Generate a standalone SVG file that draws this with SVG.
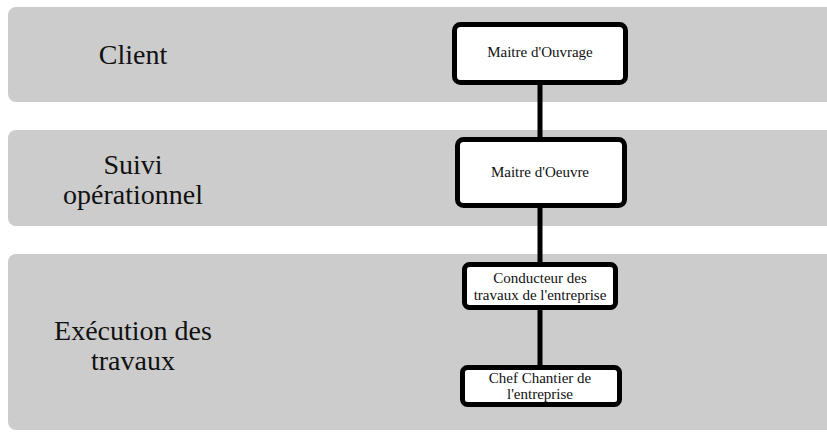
<svg xmlns="http://www.w3.org/2000/svg" width="827" height="432" viewBox="0 0 827 432">
  <style>
    .lane { fill: #cccccc; }
    .title { font-family: "Liberation Serif", "DejaVu Serif", serif; font-size: 28px; fill: #111; text-anchor: middle; }
    .box { fill: #ffffff; stroke: #000000; stroke-width: 5; }
    .label { font-family: "Liberation Serif", "DejaVu Serif", serif; font-size: 15px; fill: #111; text-anchor: middle; }
    .conn { stroke: #000000; stroke-width: 5; fill: none; }
  </style>
  <rect width="827" height="432" fill="#ffffff"/>
  <g id="lanes">
    <g id="lane-client">
      <rect class="lane" x="8" y="7" width="840" height="95" rx="8"/>
      <text class="title" x="133" y="64">Client</text>
    </g>
    <g id="lane-suivi">
      <rect class="lane" x="8" y="130" width="840" height="96" rx="8"/>
      <text class="title" x="133" y="174">Suivi</text>
      <text class="title" x="133" y="204">opérationnel</text>
    </g>
    <g id="lane-execution">
      <rect class="lane" x="8" y="254" width="840" height="176" rx="8"/>
      <text class="title" x="133" y="340">Exécution des</text>
      <text class="title" x="133" y="370">travaux</text>
    </g>
  </g>
  <g id="connectors">
    <line class="conn" x1="540" y1="85" x2="540" y2="137"/>
    <line class="conn" x1="540" y1="208" x2="540" y2="262"/>
    <line class="conn" x1="540" y1="310" x2="540" y2="365"/>
  </g>
  <g id="node-moa">
    <rect class="box" x="454.5" y="24.5" width="171" height="58" rx="6"/>
    <text class="label" x="540" y="57">Maitre d'Ouvrage</text>
  </g>
  <g id="node-moe">
    <rect class="box" x="457.5" y="139.5" width="167" height="66" rx="6"/>
    <text class="label" x="540" y="177">Maitre d'Oeuvre</text>
  </g>
  <g id="node-conducteur">
    <rect class="box" x="464.5" y="264.5" width="151" height="43" rx="5"/>
    <text class="label" x="540" y="283">Conducteur des</text>
    <text class="label" x="540" y="300">travaux de l'entreprise</text>
  </g>
  <g id="node-chef">
    <rect class="box" x="462.5" y="367.5" width="157" height="37" rx="5"/>
    <text class="label" x="540" y="383">Chef Chantier de</text>
    <text class="label" x="540" y="399">l'entreprise</text>
  </g>
</svg>
